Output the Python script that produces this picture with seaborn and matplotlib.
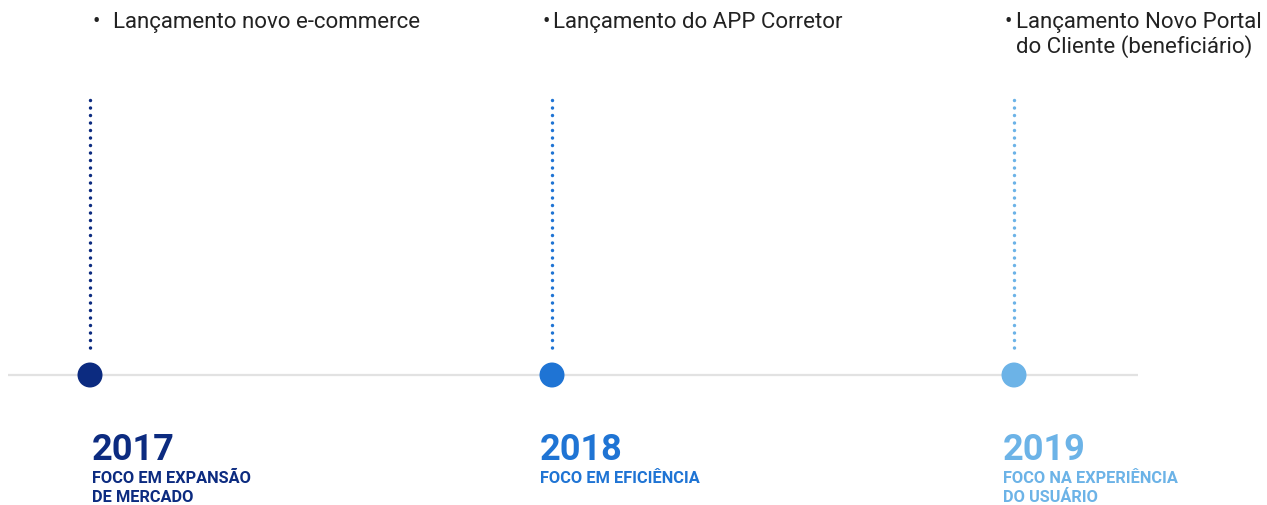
import matplotlib
matplotlib.use("Agg")
import matplotlib.pyplot as plt
import seaborn as sns
import pandas as pd

# ---- data ----
years = [2017, 2018, 2019]
focus_lines = [["FOCO EM EXPANSÃO", "DE MERCADO"],
               ["FOCO EM EFICIÊNCIA"],
               ["FOCO NA EXPERIÊNCIA", "DO USUÁRIO"]]
milestones = [["Lançamento novo e-commerce"],
              ["Lançamento do APP Corretor"],
              ["Lançamento Novo Portal", "do Cliente (beneficiário)"]]
colors = ["#0c2b80", "#1f74d4", "#6cb3e7"]

# ---- layout ----
W, H = 1267, 506
PX_PER_YEAR = 462.0
X0_PX = 90.0


def px2x(px):
    return years[0] + (px - X0_PX) / PX_PER_YEAR


sns.set_theme(style="white")
plt.rcParams["font.family"] = ["Roboto", "DejaVu Sans"]

fig = plt.figure(figsize=(W / 100, H / 100), dpi=100)
ax = fig.add_axes([0, 0, 1, 1])

# baseline
ax.plot([px2x(8), px2x(1138)], [376, 376], color="#e2e2e2", lw=1.6,
        solid_capstyle="butt", zorder=1)

# dotted stems
for yr, c in zip(years, colors):
    ax.plot([yr, yr], [101, 356], color=c, lw=2.5,
            linestyle=(0, (0.01, 2.15)), dash_capstyle="round", zorder=2)

# circles via seaborn
df = pd.DataFrame({"year": years, "y": [376] * len(years),
                   "label": [str(y) for y in years]})
sns.scatterplot(data=df, x="year", y="y", hue="label",
                palette=colors, s=18 ** 2, linewidth=0, legend=False,
                ax=ax, zorder=3)
ax.set_xlim(px2x(0), px2x(W))
ax.set_ylim(H, 0)
ax.axis("off")

# text offsets (px) relative to each year position
bullet_dx = [2, -9, -9]
label_dx = [23, 1, 2]
year_dx = [2, -12, -11]

for i, (yr, c) in enumerate(zip(years, colors)):
    ax.text(yr + bullet_dx[i] / PX_PER_YEAR, 28, "•", fontsize=16,
            color="#222222", va="baseline", ha="left")
    for j, line in enumerate(milestones[i]):
        ax.text(yr + label_dx[i] / PX_PER_YEAR, 28 + 25 * j, line,
                fontsize=16, color="#222222", va="baseline", ha="left")
    ax.text(yr + year_dx[i] / PX_PER_YEAR, 460, str(yr), fontsize=26,
            fontweight="bold", color=c, va="baseline", ha="left")
    for j, line in enumerate(focus_lines[i]):
        ax.text(yr + year_dx[i] / PX_PER_YEAR, 483 + 19 * j, line,
                fontsize=11.8, fontweight="bold", color=c,
                va="baseline", ha="left")

fig.savefig("out.png", dpi=100, facecolor="white")
